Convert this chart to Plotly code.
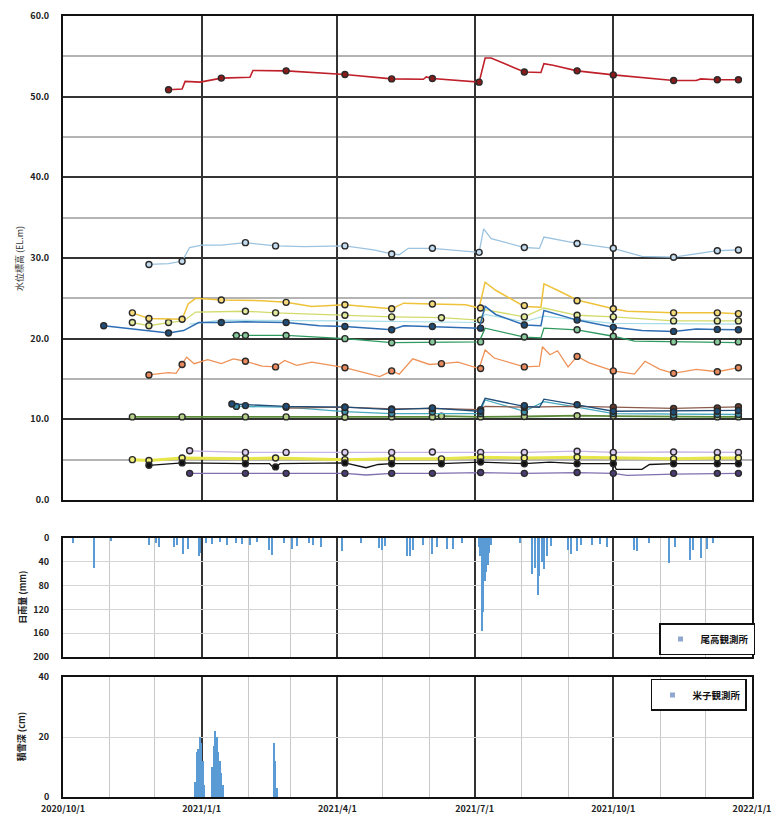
import plotly.graph_objects as go

# ---------------- water level series (line = logger, points = manual) ----------------
red_line_dates = ["2020-12-10","2020-12-19","2020-12-21","2020-12-31","2021-01-14","2021-02-02","2021-02-04","2021-02-26","2021-04-06","2021-05-07","2021-05-28","2021-05-30","2021-06-03","2021-07-04","2021-07-08","2021-07-12","2021-08-03","2021-08-14","2021-08-16","2021-08-22","2021-09-07","2021-10-01","2021-11-10","2021-11-25","2021-11-28","2021-12-09","2021-12-23"]
red_line_vals = [50.85,50.95,51.9,51.8,52.3,52.4,53.25,53.2,52.75,52.2,52.15,52.45,52.25,51.8,54.8,54.8,53.05,53.0,54.1,53.9,53.2,52.7,52.0,52.0,52.2,52.1,52.1]
red_pts_dates = ["2020-12-10","2021-01-14","2021-02-26","2021-04-06","2021-05-07","2021-06-03","2021-07-04","2021-08-03","2021-09-07","2021-10-01","2021-11-10","2021-12-09","2021-12-23"]
red_pts_vals = [50.85,52.3,53.2,52.75,52.2,52.25,51.8,53.05,53.2,52.7,52.0,52.1,52.1]

lblue_line_dates = ["2020-11-27","2020-12-10","2020-12-19","2020-12-24","2021-01-01","2021-01-14","2021-01-30","2021-02-19","2021-03-10","2021-04-06","2021-04-25","2021-05-07","2021-05-12","2021-05-18","2021-06-03","2021-06-20","2021-07-04","2021-07-07","2021-07-12","2021-08-03","2021-08-13","2021-08-16","2021-09-07","2021-10-01","2021-10-20","2021-11-10","2021-11-25","2021-12-09","2021-12-23"]
lblue_line_vals = [29.2,29.3,29.6,31.3,31.6,31.6,31.9,31.5,31.4,31.5,31.0,30.5,30.4,31.2,31.2,30.9,30.7,33.6,32.4,31.3,31.2,32.6,31.8,31.2,30.2,30.1,30.5,30.9,31.0]
lblue_pts_dates = ["2020-11-27","2020-12-19","2021-01-30","2021-02-19","2021-04-06","2021-05-07","2021-06-03","2021-07-04","2021-08-03","2021-09-07","2021-10-01","2021-11-10","2021-12-09","2021-12-23"]
lblue_pts_vals = [29.2,29.6,31.9,31.5,31.5,30.5,31.2,30.7,31.3,31.8,31.2,30.1,30.9,31.0]

gold_line_dates = ["2020-11-16","2020-11-27","2020-12-19","2020-12-23","2020-12-28","2021-01-14","2021-02-10","2021-02-26","2021-03-15","2021-04-06","2021-05-07","2021-05-15","2021-06-03","2021-06-25","2021-07-04","2021-07-08","2021-07-15","2021-08-03","2021-08-14","2021-08-16","2021-08-25","2021-09-07","2021-10-01","2021-10-10","2021-11-10","2021-12-09","2021-12-23"]
gold_line_vals = [23.2,22.5,22.4,24.3,25.0,24.8,24.7,24.5,24.0,24.2,23.7,24.4,24.3,24.2,23.8,27.0,26.0,24.0,23.9,26.8,26.0,24.8,23.7,23.4,23.2,23.2,23.1]
gold_pts_dates = ["2020-11-16","2020-11-27","2020-12-19","2021-01-14","2021-02-26","2021-04-06","2021-05-07","2021-06-03","2021-07-05","2021-08-03","2021-09-07","2021-10-01","2021-11-10","2021-12-09","2021-12-23"]
gold_pts_vals = [23.2,22.5,22.4,24.8,24.5,24.2,23.7,24.3,23.8,24.1,24.7,23.7,23.2,23.2,23.1]

ygreen_line_dates = ["2020-11-16","2020-11-27","2020-12-10","2020-12-20","2020-12-28","2021-01-30","2021-02-19","2021-04-06","2021-05-07","2021-06-09","2021-07-04","2021-07-08","2021-08-03","2021-08-16","2021-09-07","2021-10-01","2021-11-10","2021-12-23"]
ygreen_line_vals = [22.0,21.6,22.0,22.2,23.3,23.4,23.2,22.9,22.7,22.6,22.3,23.6,22.7,23.8,22.9,22.7,22.2,22.2]
ygreen_pts_dates = ["2020-11-16","2020-11-27","2020-12-10","2021-01-30","2021-02-19","2021-04-06","2021-05-07","2021-06-09","2021-07-05","2021-08-03","2021-09-07","2021-10-01","2021-11-10","2021-12-09","2021-12-23"]
ygreen_pts_vals = [22.0,21.6,22.0,23.4,23.2,22.9,22.7,22.6,22.3,22.7,22.9,22.7,22.2,22.2,22.2]

cyan_line_dates = ["2020-12-24","2021-01-14","2021-04-06","2021-07-04","2021-07-08","2021-08-03","2021-08-16","2021-10-01","2021-12-23"]
cyan_line_vals = [21.8,22.3,22.2,22.0,23.0,22.1,22.8,21.9,21.8]

blue_line_dates = ["2020-10-28","2020-11-15","2020-12-10","2020-12-20","2020-12-30","2021-01-14","2021-01-30","2021-02-26","2021-03-20","2021-04-06","2021-05-07","2021-05-15","2021-06-03","2021-07-04","2021-07-08","2021-07-15","2021-08-03","2021-08-14","2021-08-16","2021-09-07","2021-10-01","2021-10-20","2021-11-10","2021-11-25","2021-12-09","2021-12-23"]
blue_line_vals = [21.6,21.2,20.7,21.0,22.0,22.0,22.1,22.0,21.6,21.5,21.1,21.6,21.5,21.3,24.0,23.0,21.7,21.6,23.5,22.3,21.4,21.0,20.9,21.2,21.15,21.1]
blue_pts_dates = ["2020-10-28","2020-12-10","2021-01-14","2021-02-26","2021-04-06","2021-05-07","2021-06-03","2021-07-05","2021-08-03","2021-09-07","2021-10-01","2021-11-10","2021-12-09","2021-12-23"]
blue_pts_vals = [21.6,20.7,22.0,22.0,21.5,21.1,21.5,21.3,21.7,22.3,21.4,20.9,21.15,21.1]

green_line_dates = ["2021-01-21","2021-02-26","2021-04-06","2021-05-07","2021-07-04","2021-07-08","2021-08-03","2021-08-14","2021-08-16","2021-09-07","2021-10-01","2021-10-15","2021-12-23"]
green_line_vals = [20.4,20.4,20.0,19.5,19.6,21.3,20.2,20.1,21.3,21.1,20.3,19.7,19.5]
green_pts_dates = ["2021-01-24","2021-01-30","2021-02-26","2021-04-06","2021-05-07","2021-06-03","2021-07-05","2021-08-03","2021-09-07","2021-10-01","2021-11-10","2021-12-09","2021-12-23"]
green_pts_vals = [20.4,20.4,20.4,20.0,19.5,19.6,19.6,20.2,21.1,20.3,19.6,19.6,19.6]

orange_line_dates = ["2020-11-27","2020-12-10","2020-12-15","2020-12-19","2020-12-22","2020-12-27","2021-01-05","2021-01-14","2021-01-22","2021-01-30","2021-02-10","2021-02-19","2021-02-25","2021-03-05","2021-03-15","2021-04-06","2021-04-29","2021-05-07","2021-05-12","2021-05-21","2021-06-01","2021-06-09","2021-06-20","2021-07-04","2021-07-08","2021-07-14","2021-08-03","2021-08-13","2021-08-15","2021-08-20","2021-08-25","2021-09-01","2021-09-07","2021-09-15","2021-10-01","2021-10-15","2021-10-22","2021-11-01","2021-11-10","2021-11-25","2021-12-09","2021-12-23"]
orange_line_vals = [15.5,15.8,15.7,16.8,17.7,16.9,17.4,16.9,17.5,17.2,16.6,16.5,17.3,16.7,17.1,16.4,15.3,16.0,15.6,17.5,16.8,16.9,17.1,16.3,18.6,17.6,16.5,16.6,19.0,18.0,18.5,16.5,17.8,17.0,16.0,15.6,17.2,16.2,15.7,16.2,15.9,16.4]
orange_pts_dates = ["2020-11-27","2020-12-19","2021-01-30","2021-02-19","2021-04-06","2021-05-07","2021-06-09","2021-07-05","2021-08-03","2021-09-07","2021-10-01","2021-11-10","2021-12-09","2021-12-23"]
orange_pts_vals = [15.5,16.8,17.2,16.5,16.4,16.0,16.9,16.3,16.5,17.8,16.0,15.7,15.9,16.4]

navy_line_dates = ["2021-01-21","2021-02-26","2021-04-06","2021-05-07","2021-06-03","2021-07-04","2021-07-08","2021-08-03","2021-08-13","2021-08-16","2021-09-07","2021-10-01","2021-12-23"]
navy_line_vals = [11.9,11.6,11.5,11.2,11.4,11.0,12.6,11.6,11.5,12.5,11.8,11.0,11.1]
navy_pts_dates = ["2021-01-21","2021-01-30","2021-02-26","2021-04-06","2021-05-07","2021-06-03","2021-07-05","2021-08-03","2021-09-07","2021-10-01","2021-11-10","2021-12-09","2021-12-23"]
navy_pts_vals = [11.9,11.7,11.6,11.5,11.2,11.4,11.0,11.7,11.8,11.0,10.9,11.0,11.1]

teal_line_dates = ["2021-01-24","2021-02-26","2021-04-06","2021-05-07","2021-07-04","2021-07-08","2021-08-03","2021-08-16","2021-09-07","2021-10-01","2021-12-23"]
teal_line_vals = [11.6,11.5,10.95,10.7,10.7,12.4,11.0,12.2,11.5,10.7,10.6]
teal_pts_dates = ["2021-01-24","2021-02-26","2021-04-06","2021-05-07","2021-06-03","2021-07-05","2021-08-03","2021-10-01","2021-11-10","2021-12-09","2021-12-23"]
teal_pts_vals = [11.6,11.5,10.95,10.7,10.9,10.7,10.9,10.7,10.5,10.6,10.6]

brown_line_dates = ["2021-02-26","2021-04-06","2021-05-07","2021-06-03","2021-07-04","2021-07-08","2021-08-03","2021-09-07","2021-10-01","2021-11-10","2021-12-23"]
brown_line_vals = [11.4,11.5,11.3,11.35,11.2,11.6,11.5,11.6,11.5,11.35,11.55]
brown_pts_dates = ["2021-04-06","2021-05-07","2021-06-03","2021-07-05","2021-08-03","2021-10-01","2021-11-10","2021-12-09","2021-12-23"]
brown_pts_vals = [11.5,11.3,11.35,11.2,11.5,11.5,11.35,11.4,11.55]

dgreen_dates = ["2020-11-16","2020-12-19","2021-01-30","2021-02-26","2021-04-06","2021-05-07","2021-06-03","2021-06-09","2021-07-05","2021-08-03","2021-09-07","2021-10-01","2021-11-10","2021-12-09","2021-12-23"]
dgreen_vals = [10.3,10.3,10.3,10.3,10.25,10.3,10.3,10.4,10.3,10.35,10.45,10.4,10.3,10.3,10.3]

lav_dates = ["2020-12-24","2021-01-30","2021-02-26","2021-04-06","2021-05-07","2021-06-03","2021-07-05","2021-08-03","2021-09-07","2021-10-01","2021-11-10","2021-12-09","2021-12-23"]
lav_vals = [6.1,5.9,5.9,5.9,5.9,5.95,5.9,5.9,6.05,5.9,5.95,5.9,5.9]

yel_dates = ["2020-11-16","2020-11-27","2020-12-19","2021-01-30","2021-02-19","2021-04-06","2021-05-07","2021-06-09","2021-07-05","2021-08-03","2021-09-07","2021-10-01","2021-11-10","2021-12-09","2021-12-23"]
yel_vals = [5.0,4.9,5.2,5.1,5.2,5.0,5.1,5.1,5.3,5.2,5.3,5.2,5.1,5.2,5.2]

black_line_dates = ["2020-11-27","2020-12-19","2021-01-30","2021-02-15","2021-02-17","2021-02-19","2021-02-22","2021-04-06","2021-04-20","2021-04-28","2021-05-07","2021-06-09","2021-07-05","2021-07-20","2021-08-03","2021-08-20","2021-09-07","2021-10-01","2021-10-03","2021-10-20","2021-10-25","2021-11-10","2021-12-23"]
black_line_vals = [4.3,4.6,4.5,4.5,4.1,4.1,4.5,4.6,4.0,4.4,4.5,4.5,4.7,4.6,4.5,4.7,4.5,4.5,3.8,3.8,4.4,4.5,4.5]
black_pts_dates = ["2020-11-27","2020-12-19","2021-01-30","2021-02-19","2021-04-06","2021-05-07","2021-06-09","2021-07-05","2021-08-03","2021-09-07","2021-10-01","2021-11-10","2021-12-09","2021-12-23"]
black_pts_vals = [4.3,4.6,4.5,4.1,4.6,4.5,4.5,4.7,4.5,4.5,4.5,4.5,4.5,4.5]

purple_line_dates = ["2020-12-24","2021-01-30","2021-02-26","2021-04-06","2021-04-20","2021-05-07","2021-06-03","2021-07-05","2021-08-03","2021-09-07","2021-10-01","2021-10-10","2021-11-10","2021-12-09","2021-12-23"]
purple_line_vals = [3.3,3.3,3.35,3.3,3.1,3.3,3.3,3.4,3.3,3.4,3.3,3.05,3.2,3.3,3.3]
purple_pts_dates = ["2020-12-24","2021-01-30","2021-02-26","2021-04-06","2021-05-07","2021-06-03","2021-07-05","2021-08-03","2021-09-07","2021-10-01","2021-11-10","2021-12-09","2021-12-23"]
purple_pts_vals = [3.3,3.3,3.3,3.3,3.3,3.3,3.4,3.3,3.4,3.3,3.3,3.3,3.3]

# ---------------- daily rainfall (mm) ----------------
rain_dates = ["2020-10-08","2020-10-22","2020-11-02","2020-11-27","2020-12-02","2020-12-04","2020-12-14","2020-12-16","2020-12-20","2020-12-23","2020-12-30","2020-12-31","2021-01-04","2021-01-08","2021-01-13","2021-01-18","2021-01-24","2021-01-28","2021-02-02","2021-02-07","2021-02-15","2021-02-17","2021-02-25","2021-03-02","2021-03-05","2021-03-13","2021-03-16","2021-03-21","2021-04-04","2021-04-17","2021-04-29","2021-05-01","2021-05-03","2021-05-17","2021-05-19","2021-05-21","2021-05-28","2021-06-03","2021-06-06","2021-06-13","2021-06-17","2021-06-23","2021-07-04","2021-07-05","2021-07-06","2021-07-07","2021-07-08","2021-07-09","2021-07-10","2021-07-11","2021-07-12","2021-07-31","2021-08-08","2021-08-10","2021-08-12","2021-08-13","2021-08-15","2021-08-16","2021-08-18","2021-08-21","2021-09-01","2021-09-03","2021-09-07","2021-09-10","2021-09-17","2021-09-22","2021-09-27","2021-10-15","2021-10-17","2021-10-25","2021-11-07","2021-11-11","2021-11-21","2021-11-23","2021-11-28","2021-12-02","2021-12-06"]
rain_mm = [8,50,5,12,8,15,15,12,27,18,30,25,8,10,6,12,8,10,12,6,20,28,8,18,14,8,12,15,22,8,17,20,14,30,31,20,12,27,15,18,18,8,15,30,157,125,72,58,45,25,12,8,60,50,96,64,40,52,30,14,20,27,22,12,12,10,15,20,22,8,42,15,37,20,33,18,8]

# ---------------- snow depth (cm) ----------------
snow_dates = ["2020-12-28","2020-12-29","2020-12-30","2020-12-31","2021-01-01","2021-01-02","2021-01-03","2021-01-08","2021-01-09","2021-01-10","2021-01-11","2021-01-12","2021-01-13","2021-01-14","2021-01-15","2021-02-18","2021-02-19","2021-02-20"]
snow_cm = [5,15,16,20,18,12,4,10,17,22,20,15,12,8,4,18,12,3]

rain_station = "尾高観測所"
snow_station = "米子観測所"

x_tick_vals = ["2020-10-01","2021-01-01","2021-04-01","2021-07-01","2021-10-01","2022-01-01"]
x_tick_text = ["2020/10/1","2021/1/1","2021/4/1","2021/7/1","2021/10/1","2022/1/1"]
quarter_lines = ["2021-01-01","2021-04-01","2021-07-01","2021-10-01"]

series = [
    (lblue_line_dates, lblue_line_vals, lblue_pts_dates, lblue_pts_vals, "#9CC3E0", "#C4DCEF", 1.3),
    (cyan_line_dates, cyan_line_vals, None, None, "#A6DDE8", None, 1.2),
    (ygreen_line_dates, ygreen_line_vals, ygreen_pts_dates, ygreen_pts_vals, "#D2DB6A", "#E4EB9C", 1.3),
    (gold_line_dates, gold_line_vals, gold_pts_dates, gold_pts_vals, "#EEC23A", "#F7DB7A", 1.5),
    (green_line_dates, green_line_vals, green_pts_dates, green_pts_vals, "#2E9A5E", "#86C99A", 1.3),
    (blue_line_dates, blue_line_vals, blue_pts_dates, blue_pts_vals, "#2F6EB5", "#1F4E79", 1.5),
    (orange_line_dates, orange_line_vals, orange_pts_dates, orange_pts_vals, "#EE9258", "#E98A5E", 1.3),
    (dgreen_dates, dgreen_vals, dgreen_dates, dgreen_vals, "#5B8C3A", "#B5CF86", 1.8),
    (teal_line_dates, teal_line_vals, teal_pts_dates, teal_pts_vals, "#46A9BF", "#3E8FA8", 1.3),
    (brown_line_dates, brown_line_vals, brown_pts_dates, brown_pts_vals, "#8B5A4A", "#6B3A2A", 1.3),
    (navy_line_dates, navy_line_vals, navy_pts_dates, navy_pts_vals, "#1F4E79", "#1F4E79", 1.3),
    (lav_dates, lav_vals, lav_dates, lav_vals, "#C7B3E5", "#DCCCF2", 1.3),
    (yel_dates, yel_vals, yel_dates, yel_vals, "#E6E64B", "#F0F07A", 3.0),
    (black_line_dates, black_line_vals, black_pts_dates, black_pts_vals, "#111111", "#111111", 1.3),
    (purple_line_dates, purple_line_vals, purple_pts_dates, purple_pts_vals, "#8070B0", "#4B3C74", 1.3),
    (red_line_dates, red_line_vals, red_pts_dates, red_pts_vals, "#C0202A", "#8B1A1A", 1.6),
]

fig = go.Figure()
for ld, lv, pd_, pv, col, fill, w in series:
    fig.add_trace(go.Scatter(x=ld, y=lv, mode="lines", line=dict(color=col, width=w),
                             xaxis="x", yaxis="y", showlegend=False, hoverinfo="skip"))
    if pd_ is not None:
        fig.add_trace(go.Scatter(x=pd_, y=pv, mode="markers",
                                 marker=dict(size=6, color=fill, line=dict(color="#2A2A2A", width=1.4)),
                                 xaxis="x", yaxis="y", showlegend=False))

DAY_MS = 86400000
fig.add_trace(go.Bar(x=rain_dates, y=rain_mm, width=DAY_MS * 0.9, marker=dict(color="#5B9BD5", line=dict(width=0)),
                     xaxis="x2", yaxis="y2", name=rain_station, showlegend=False))
fig.add_trace(go.Bar(x=snow_dates, y=snow_cm, width=DAY_MS * 1.0, marker=dict(color="#5B9BD5", line=dict(width=0)),
                     xaxis="x3", yaxis="y3", name=snow_station, showlegend=False))
# legend entries (small square swatches as in the reference)
fig.add_trace(go.Scatter(x=[None], y=[None], mode="markers", name=rain_station,
                         marker=dict(symbol="square", size=5, color="#8FA8D0"),
                         xaxis="x2", yaxis="y2", legend="legend"))
fig.add_trace(go.Scatter(x=[None], y=[None], mode="markers", name=snow_station,
                         marker=dict(symbol="square", size=5, color="#8FA8D0"),
                         xaxis="x3", yaxis="y3", legend="legend2"))

tick_font = dict(family="Noto Sans CJK JP", size=9, color="#222222", weight="bold")
xr = ["2020-10-01", "2022-01-01"]
frame = dict(showline=True, mirror=True, linecolor="#111111", linewidth=2, zeroline=False, automargin=False)
leg_font = dict(family="Noto Sans CJK JP", size=9.5, color="#111111", weight="bold")

fig.update_layout(
    width=773, height=814,
    margin=dict(l=63, r=21, t=16, b=17, autoexpand=False),
    paper_bgcolor="white", plot_bgcolor="white",
    bargap=0,
    xaxis=dict(domain=[0, 1], range=xr, type="date", tickvals=quarter_lines, showticklabels=False,
               showgrid=True, gridcolor="#333333", gridwidth=1.5, anchor="y", **frame),
    yaxis=dict(domain=[0.3803, 1.0], range=[0, 60], tickvals=[0, 10, 20, 30, 40, 50, 60], tickformat=".1f",
               showgrid=True, gridcolor="#333333", gridwidth=1.5, tickfont=tick_font, ticklabelstandoff=10,
               minor=dict(dtick=5, tick0=0, showgrid=True, gridcolor="#B4B4B4", gridwidth=1.5),
               anchor="x", **frame),
    xaxis2=dict(domain=[0, 1], range=xr, type="date", tickvals=quarter_lines, showticklabels=False,
                showgrid=True, gridcolor="#333333", gridwidth=1.5, anchor="y2",
                minor=dict(dtick="M1", tick0="2020-10-01", showgrid=True, gridcolor="#C8C8C8", gridwidth=1.2),
                matches="x", **frame),
    yaxis2=dict(domain=[0.1793, 0.3316], range=[200, 0], tickvals=[0, 40, 80, 120, 160, 200],
                showgrid=True, gridcolor="#D4D4D4", gridwidth=1, tickfont=tick_font, ticklabelstandoff=10,
                anchor="x2", **frame),
    xaxis3=dict(domain=[0, 1], range=xr, type="date", tickvals=x_tick_vals, ticktext=x_tick_text,
                showgrid=True, gridcolor="#333333", gridwidth=1.5, anchor="y3", tickfont=tick_font,
                ticklabelstandoff=2,
                minor=dict(dtick="M1", tick0="2020-10-01", showgrid=True, gridcolor="#C8C8C8", gridwidth=1.2),
                matches="x", **frame),
    yaxis3=dict(domain=[0, 0.1536], range=[0, 40], tickvals=[0, 20, 40],
                showgrid=True, gridcolor="#D4D4D4", gridwidth=1, tickfont=tick_font, ticklabelstandoff=10,
                anchor="x3", **frame),
    legend=dict(x=1.0044, xanchor="right", y=0.1818, yanchor="bottom", bgcolor="white",
                bordercolor="#111111", borderwidth=1.5, font=leg_font, itemwidth=30, tracegroupgap=0),
    legend2=dict(x=0.9927, xanchor="right", y=0.1511, yanchor="top", bgcolor="white",
                 bordercolor="#111111", borderwidth=1.5, font=leg_font, itemwidth=30, tracegroupgap=0),
    annotations=[
        dict(text="水位標高 (EL.m)", xref="paper", yref="paper", x=-0.064, y=0.69, xanchor="center", yanchor="middle",
             textangle=-90, showarrow=False, font=dict(family="Noto Sans CJK JP", size=9, color="#333333")),
        dict(text="日雨量 (mm)", xref="paper", yref="paper", x=-0.059, y=0.2555, xanchor="center", yanchor="middle",
             textangle=-90, showarrow=False, font=dict(family="Noto Sans CJK JP", size=9, color="#222222", weight="bold")),
        dict(text="積雪深 (cm)", xref="paper", yref="paper", x=-0.059, y=0.077, xanchor="center", yanchor="middle",
             textangle=-90, showarrow=False, font=dict(family="Noto Sans CJK JP", size=9, color="#222222", weight="bold")),
    ],
)

fig.write_html("out.html", config={"displayModeBar": False},
               post_script="document.body.style.margin='0';document.body.style.padding='0';document.body.style.overflow='hidden';")
